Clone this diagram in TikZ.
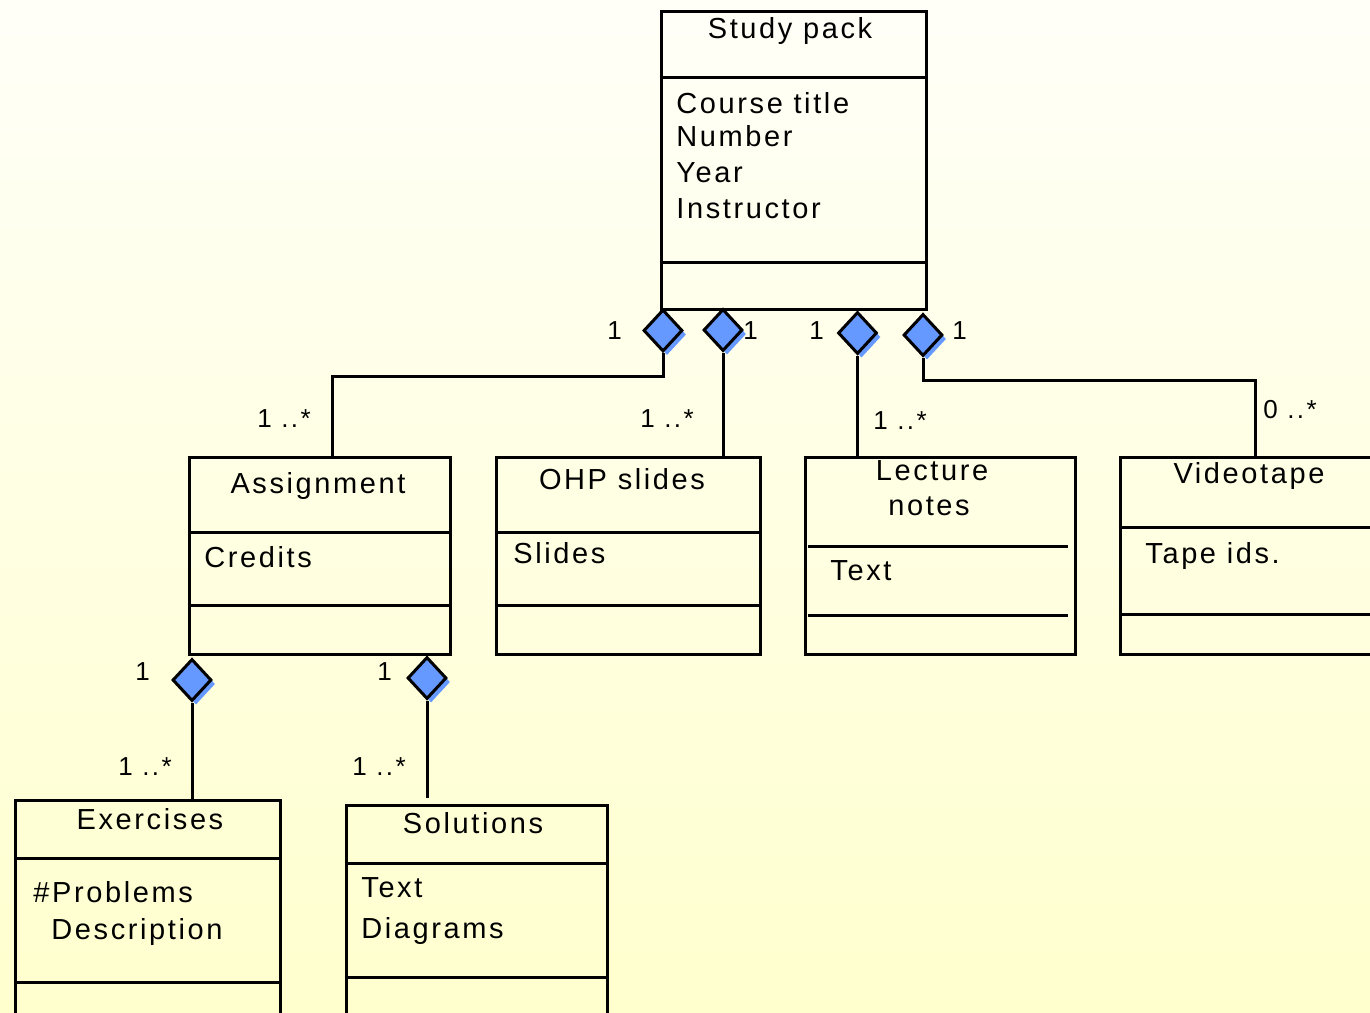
\documentclass[tikz,border=0pt]{standalone}
\usepackage{fontspec}
\setmainfont[LetterSpace=9]{Liberation Sans}
\usetikzlibrary{shapes.geometric,shadows}

\definecolor{bgtop}{RGB}{255,255,248}
\definecolor{bgbot}{RGB}{255,255,206}
\definecolor{diablue}{RGB}{102,153,255}

\begin{document}
\begin{tikzpicture}[
    x=0.5pt, y=-0.5pt,
    umlbox/.style={rectangle, draw, line width=1.5pt, inner sep=0},
    sep/.style={line width=1.5pt},
    link/.style={line width=1.5pt},
    diam/.style={diamond, draw, line width=1.5pt, fill=diablue, inner sep=0,
        minimum width=19.5pt, minimum height=21pt,
        general shadow={fill=diablue, shadow xshift=2pt, shadow yshift=-2pt}},
    cname/.style={anchor=base, inner sep=0, font=\fontsize{14.5}{17}\selectfont},
    attr/.style={anchor=base west, inner sep=0, font=\fontsize{14.5}{17}\selectfont},
    mult/.style={anchor=base west, inner sep=0, font=\fontsize{13}{15}\selectfont}
]
    % Background
    \clip (0,0) rectangle (1370,1012);
    \shade[top color=bgtop, bottom color=bgbot] (0,0) rectangle (1370,1012);

    % Classes
    \node[umlbox, minimum width=132.5pt, minimum height=149pt] (study) at (793.5,160) {};
    \node[umlbox, minimum width=130.5pt, minimum height=98.5pt] (assign) at (319.5,555.5) {};
    \node[umlbox, minimum width=132pt, minimum height=98.5pt] (ohp) at (628,555.5) {};
    \node[umlbox, minimum width=135pt, minimum height=98.5pt] (lect) at (940,555.5) {};
    \node[umlbox, minimum width=135pt, minimum height=98.5pt] (video) at (1255,555.5) {};
    \node[umlbox, minimum width=132.5pt, minimum height=120pt] (exer) at (147.5,920) {};
    \node[umlbox, minimum width=130.5pt, minimum height=117.5pt] (sol) at (476.5,922.5) {};

    % Compartments
    \draw[sep] (study.west |- 0,77) -- (study.east |- 0,77);
    \draw[sep] (study.west |- 0,262) -- (study.east |- 0,262);
    \draw[sep] (assign.west |- 0,532) -- (assign.east |- 0,532);
    \draw[sep] (assign.west |- 0,605) -- (assign.east |- 0,605);
    \draw[sep] (ohp.west |- 0,532) -- (ohp.east |- 0,532);
    \draw[sep] (ohp.west |- 0,605) -- (ohp.east |- 0,605);
    \draw[sep] (808,546) -- (1068,546);
    \draw[sep] (808,615) -- (1068,615);
    \draw[sep] (video.west |- 0,527) -- (video.east |- 0,527);
    \draw[sep] (video.west |- 0,614) -- (video.east |- 0,614);
    \draw[sep] (exer.west |- 0,858) -- (exer.east |- 0,858);
    \draw[sep] (exer.west |- 0,982) -- (exer.east |- 0,982);
    \draw[sep] (sol.west |- 0,863) -- (sol.east |- 0,863);
    \draw[sep] (sol.west |- 0,977) -- (sol.east |- 0,977);

    % Aggregation diamonds
    \node[diam] (d1) at (663,330.5) {};
    \node[diam] (d2) at (723,330) {};
    \node[diam] (d3) at (857.5,333) {};
    \node[diam] (d4) at (923,335) {};
    \node[diam] (da) at (192,680) {};
    \node[diam] (db) at (427,678) {};

    % Bends
    \coordinate (b1) at (332,376);
    \coordinate (b4) at (1255,380);
    \coordinate (eb) at (427,798);

    % Links
    \draw[link] (d1.south) |- (b1) -- (b1 |- assign.north);
    \draw[link] (d2.south) -- (d2.south |- ohp.north);
    \draw[link] (d3.south) -- (d3.south |- lect.north);
    \draw[link] (d4.south) |- (b4) -- (video.north);
    \draw[link] (da.south) -- (da.south |- exer.north);
    \draw[link] (db.south) -- (eb);

    % Names and attributes
    \node[cname] (study-n) at (790,39) {Study pack};
    \node[attr] (study-a1) at (676,113) {Course title};
    \node[attr] (study-a2) at (676,146) {Number};
    \node[attr] (study-a3) at (676,182) {Year};
    \node[attr] (study-a4) at (676,218) {Instructor};

    \node[cname] (assign-n) at (318,493) {Assignment};
    \node[attr] (assign-a1) at (204,567) {Credits};

    \node[cname] (ohp-n) at (622,489) {OHP slides};
    \node[attr] (ohp-a1) at (513,563) {Slides};

    \node[cname] (lect-n1) at (932,480) {Lecture};
    \node[cname] (lect-n2) at (929,515) {notes};
    \node[attr] (lect-a1) at (830,580) {Text};

    \node[cname] (video-n) at (1249,483) {Videotape};
    \node[attr] (video-a1) at (1145,563) {Tape ids.};

    \node[cname] (exer-n) at (150,829) {Exercises};
    \node[attr] (exer-a1) at (33,902) {\#Problems};
    \node[attr] (exer-a2) at (51,939) {Description};

    \node[cname] (sol-n) at (473,833) {Solutions};
    \node[attr] (sol-a1) at (361,897) {Text};
    \node[attr] (sol-a2) at (361,938) {Diagrams};

    % Multiplicities
    \node[mult] (m1) at (607,339) {1};
    \node[mult] (m2) at (743,339) {1};
    \node[mult] (m3) at (809,339) {1};
    \node[mult] (m4) at (952,339) {1};
    \node[mult] (m5) at (257,427) {1 ..*};
    \node[mult] (m6) at (640,427) {1 ..*};
    \node[mult] (m7) at (873,429) {1 ..*};
    \node[mult] (m8) at (1263,418) {0 ..*};
    \node[mult] (m9) at (135,680) {1};
    \node[mult] (m10) at (377,680) {1};
    \node[mult] (m11) at (118,775) {1 ..*};
    \node[mult] (m12) at (352,775) {1 ..*};
\end{tikzpicture}
\end{document}
